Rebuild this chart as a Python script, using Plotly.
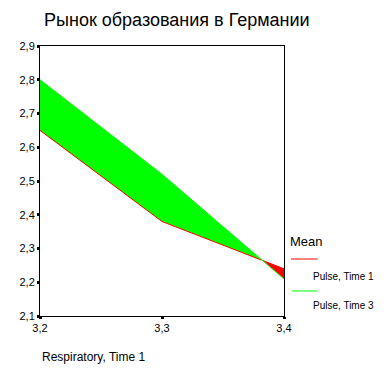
import numpy as np
import plotly.graph_objects as go

# ---- data ----
x_vals = [3.2, 3.3, 3.4]
pulse_time1 = [2.65, 2.38, 2.24]
pulse_time3 = [2.80, 2.52, 2.21]
x_ticks = [3.2, 3.3, 3.4]
y_ticks = [2.1, 2.2, 2.3, 2.4, 2.5, 2.6, 2.7, 2.8, 2.9]
title_text = "Рынок образования в Германии"
x_title = "Respiratory, Time 1"
legend_title = "Mean"
series_names = ["Pulse, Time 1", "Pulse, Time 3"]

RED = "#FF0000"
GREEN = "#00FF00"
FONT = "Liberation Sans, Arial, sans-serif"

# ---- build difference-area polygons (insert crossing points) ----
xs = np.array(x_vals, dtype=float)
a = np.array(pulse_time1, dtype=float)
b = np.array(pulse_time3, dtype=float)
px, pa, pb = [xs[0]], [a[0]], [b[0]]
for i in range(len(xs) - 1):
    d0, d1 = b[i] - a[i], b[i + 1] - a[i + 1]
    if d0 * d1 < 0:
        t = d0 / (d0 - d1)
        xc = xs[i] + t * (xs[i + 1] - xs[i])
        yc = a[i] + t * (a[i + 1] - a[i])
        px.append(xc); pa.append(yc); pb.append(yc)
    px.append(xs[i + 1]); pa.append(a[i + 1]); pb.append(b[i + 1])
px, pa, pb = np.array(px), np.array(pa), np.array(pb)

runs = []
start = 0
for i in range(1, len(px)):
    if abs(pb[i] - pa[i]) < 1e-12 or i == len(px) - 1:
        runs.append((start, i))
        start = i

fig = go.Figure()
for s, e in runs:
    seg = slice(s, e + 1)
    diff = np.mean(pb[seg] - pa[seg])
    color = GREEN if diff > 0 else RED
    xx = list(px[seg]) + list(px[seg][::-1])
    yy = list(pb[seg]) + list(pa[seg][::-1])
    fig.add_trace(go.Scatter(x=xx, y=yy, fill="toself", fillcolor=color,
                             mode="none", hoverinfo="skip", showlegend=False))

fig.add_trace(go.Scatter(x=x_vals, y=pulse_time1, mode="lines", name=series_names[0],
                         line=dict(color=RED, width=1), showlegend=False))
fig.add_trace(go.Scatter(x=x_vals, y=pulse_time3, mode="lines", name=series_names[1],
                         line=dict(color=GREEN, width=1), showlegend=False))

# page body has an 8px margin: the figure is offset by it
OFF = 8
W, H = 380, 360
ml, mt = 38 - OFF, 46 - OFF
mr = W - (284 - OFF)
mb = H - (316 - OFF)
pw, ph = W - ml - mr, H - mt - mb

def pxx(x):
    return (x - OFF - ml) / pw

def pyy(y):
    return (H - mb - (y - OFF)) / ph

annotations = [
    dict(text=title_text, x=pxx(40), y=pyy(20), xref="paper", yref="paper",
         xanchor="left", yanchor="middle", showarrow=False,
         font=dict(size=18, color="black", family=FONT)),
    dict(text=x_title, x=pxx(38), y=pyy(357), xref="paper", yref="paper",
         xanchor="left", yanchor="middle", showarrow=False,
         font=dict(size=12, color="black", family=FONT)),
    dict(text=legend_title, x=pxx(288), y=pyy(242), xref="paper", yref="paper",
         xanchor="left", yanchor="middle", showarrow=False,
         font=dict(size=13, color="black", family=FONT)),
    dict(text=series_names[0], x=pxx(311), y=pyy(276), xref="paper", yref="paper",
         xanchor="left", yanchor="middle", showarrow=False,
         font=dict(size=10, color="black", family=FONT)),
    dict(text=series_names[1], x=pxx(311), y=pyy(305), xref="paper", yref="paper",
         xanchor="left", yanchor="middle", showarrow=False,
         font=dict(size=10, color="black", family=FONT)),
]
shapes = [
    dict(type="line", xref="paper", yref="paper", x0=pxx(291), x1=pxx(318),
         y0=pyy(259), y1=pyy(259), line=dict(color=RED, width=1)),
    dict(type="line", xref="paper", yref="paper", x0=pxx(292), x1=pxx(318),
         y0=pyy(291), y1=pyy(291), line=dict(color=GREEN, width=1)),
]

fig.update_layout(
    width=W, height=H, autosize=False,
    margin=dict(l=ml, r=mr, t=mt, b=mb, pad=0),
    paper_bgcolor="white", plot_bgcolor="white",
    separators=", ",
    font=dict(family=FONT, size=11, color="black"),
    annotations=annotations, shapes=shapes,
    showlegend=False,
)
fig.update_xaxes(range=[3.2, 3.4], tickvals=x_ticks, tickformat=".1f",
                 showgrid=False, zeroline=False, showline=True, linecolor="black",
                 linewidth=1, mirror=True, ticks="outside", ticklen=2, tickwidth=3,
                 tickcolor="black", tickfont=dict(size=11, family=FONT))
fig.update_yaxes(range=[2.1, 2.9], tickvals=y_ticks, tickformat=".1f",
                 showgrid=False, zeroline=False, showline=True, linecolor="black",
                 linewidth=1, mirror=True, ticks="outside", ticklen=2, tickwidth=3,
                 tickcolor="black", tickfont=dict(size=11, family=FONT))

fig.write_html("out.html")
